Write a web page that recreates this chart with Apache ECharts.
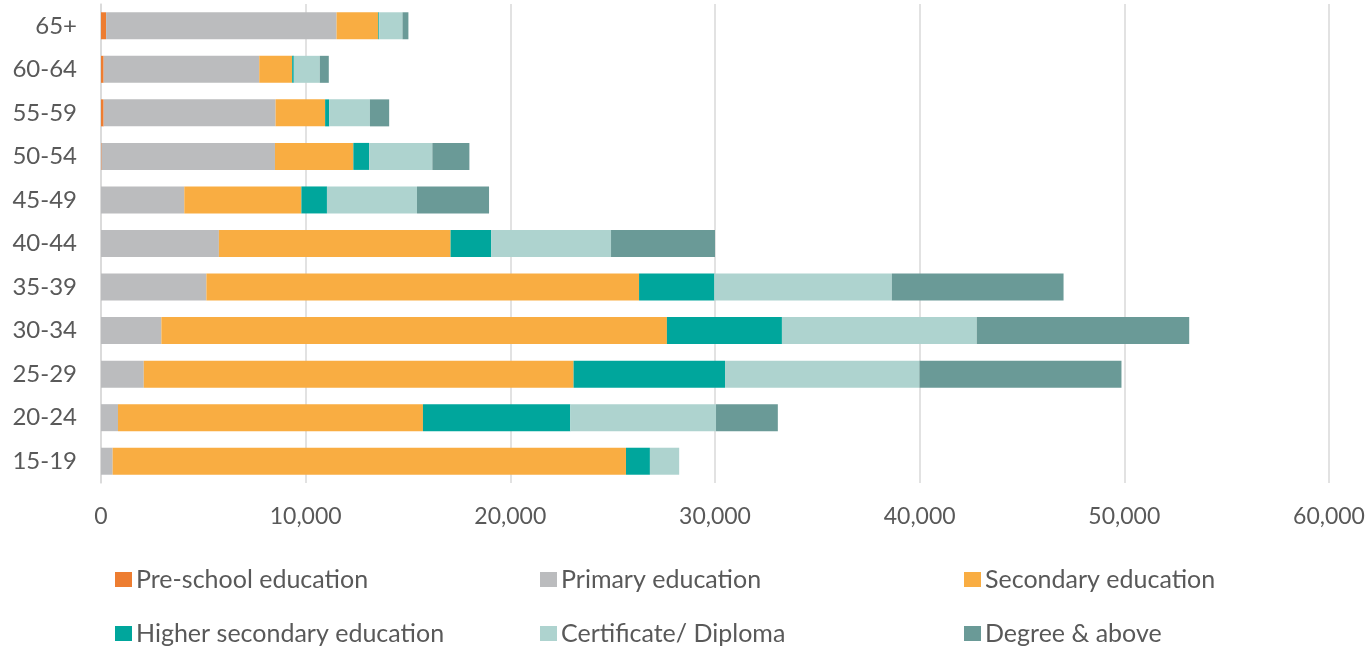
<!DOCTYPE html>
<html><head><meta charset="utf-8">
<script src="https://cdn.jsdelivr.net/npm/echarts@6/dist/echarts.min.js"></script>
<style>html,body{margin:0;padding:0;background:#fff;}#c{width:1370px;height:646px;}</style>
</head><body><div id="c"></div>
<script>
const categories = ['15-19','20-24','25-29','30-34','35-39','40-44','45-49','50-54','55-59','60-64','65+'];
const seriesNames = ['Pre-school education','Primary education','Secondary education','Higher secondary education','Certificate/ Diploma','Degree & above'];
const preSchool    = [0,    0,     0,     0,     0,     0,     0,    30,   130,  130,  250];
const primary      = [570,  830,   2090,  2950,  5150,  5760,  4070, 8470, 8400, 7600, 11260];
const secondary    = [25080,14900, 21000, 24700, 21140, 11320, 5720, 3830, 2420, 1610, 2040];
const higherSec    = [1170, 7200,  7400,  5620,  3680,  1990,  1250, 770,  200,  80,   40];
const certificate  = [1430, 7120,  9500,  9520,  8670,  5850,  4400, 3090, 1990, 1270, 1140];
const degree       = [0,    3020,  9870,  10380, 8390,  5080,  3520, 1810, 940,  440,  290];
const xTicks = [0,10000,20000,30000,40000,50000,60000];

const colors = ['#ED7D31','#BBBCBE','#F9AD42','#00A69C','#AED3CF','#6A9A97'];
const values = [preSchool, primary, secondary, higherSec, certificate, degree];
const font = 'Lato, "Open Sans", sans-serif';
const txt = '#595959';

const legendPos = [[115,567],[540,567],[964,567],[115,621],[540,621],[964,621]];
const legends = seriesNames.map((n,i)=>({
  data:[n], left:legendPos[i][0], top:legendPos[i][1], orient:'horizontal',
  padding:0,
  icon:'rect', itemWidth:17, itemHeight:15, itemGap:6,
  textStyle:{fontFamily:font, fontSize:25, lineHeight:25, color:txt, padding:[0,0,0,-1]},
  selectedMode:false
}));

const chart = echarts.init(document.getElementById('c'), null, {renderer:'canvas'});
chart.setOption({
  animation:false,
  backgroundColor:'#fff',
  color: colors,
  legend: legends,
  grid:{left:101, right:41, top:4, height:479, containLabel:false},
  xAxis:{
    type:'value', min:0, max:60000, interval:10000,
    axisLine:{show:false}, axisTick:{show:false},
    splitLine:{show:true, lineStyle:{color:'#D9D9D9', width:1.5}},
    axisLabel:{fontFamily:font, fontSize:23, color:txt, margin:22,
      formatter: v => xTicks.includes(v) ? v.toLocaleString('en-US') : ''}
  },
  yAxis:{
    type:'category', data:categories,
    axisLine:{show:true, lineStyle:{color:'#D9D9D9', width:1.5}},
    axisTick:{show:false},
    axisLabel:{fontFamily:font, fontSize:24, color:txt, margin:24}
  },
  series: seriesNames.map((n,i)=>({
    name:n, type:'bar', stack:'total', data:values[i],
    barWidth:'62%', itemStyle:{color:colors[i]}
  }))
});
</script></body></html>
